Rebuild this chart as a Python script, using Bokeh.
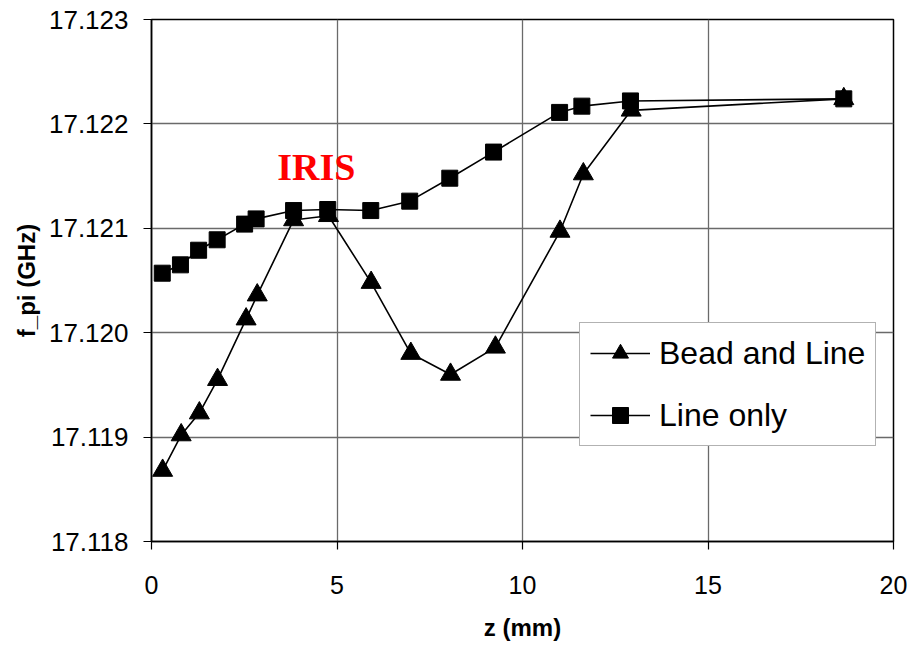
from bokeh.plotting import figure
from bokeh.models import (ColumnDataSource, FixedTicker, PrintfTickFormatter,
                          Legend, LegendItem, Label, Range1d)
from bokeh.embed import file_html
from bokeh.resources import INLINE

# ---- data ----
bead_z = [0.30, 0.80, 1.29, 1.78, 2.55, 2.85, 3.83, 4.77, 5.92, 6.99, 8.06, 9.27, 11.01, 11.64, 12.93, 18.66]
bead_f = [17.11868, 17.11902, 17.11923, 17.11955, 17.12013, 17.12036, 17.12108, 17.12112,
          17.12048, 17.11980, 17.11960, 17.11986, 17.12097, 17.12152, 17.12213, 17.12224]

line_z = [0.29, 0.78, 1.27, 1.77, 2.51, 2.82, 3.83, 4.75, 5.91, 6.96, 8.04, 9.22, 11.00, 11.60, 12.91, 18.66]
line_f = [17.12057, 17.12065, 17.12079, 17.12089, 17.12104, 17.12109, 17.12117, 17.12118,
          17.12117, 17.12126, 17.12148, 17.12173, 17.12211, 17.12217, 17.12222, 17.12224]

x_ticks = [0, 5, 10, 15, 20]
y_ticks = [17.118, 17.119, 17.120, 17.121, 17.122, 17.123]
series_names = ["Bead and Line", "Line only"]
annotation_text = "IRIS"

FONT = "Liberation Sans"

p = figure(frame_width=742, frame_height=522,
           x_range=Range1d(0, 20), y_range=Range1d(17.118, 17.123),
           output_backend="svg", toolbar_location=None,
           min_border_left=151, min_border_right=14,
           min_border_top=19, min_border_bottom=100)

p.background_fill_color = "white"
p.border_fill_color = "white"
p.outline_line_color = "black"
p.outline_line_width = 1.5

# grid
for g in (p.xgrid, p.ygrid):
    g.grid_line_color = "#6a6a6a"
    g.grid_line_width = 1.3

# axes
p.xaxis.ticker = FixedTicker(ticks=x_ticks)
p.yaxis.ticker = FixedTicker(ticks=y_ticks)
p.yaxis.formatter = PrintfTickFormatter(format="%.3f")
for ax in (p.xaxis, p.yaxis):
    ax.axis_line_color = "black"
    ax.axis_line_width = 1.5
    ax.major_tick_line_color = "black"
    ax.major_tick_line_width = 1.2
    ax.major_tick_out = 8
    ax.major_tick_in = 0
    ax.minor_tick_line_color = None
    ax.major_label_text_font = FONT
    ax.major_label_text_color = "black"
    ax.axis_label_text_font = FONT
    ax.axis_label_text_font_style = "bold"
    ax.axis_label_text_font_size = "24px"
    ax.axis_label_text_color = "black"

p.xaxis.major_label_text_font_size = "25px"
p.yaxis.major_label_text_font_size = "26px"
p.xaxis.major_label_standoff = 26
p.yaxis.major_label_standoff = 15
p.xaxis.axis_label = "z (mm)"
p.yaxis.axis_label = "f_pi (GHz)"
p.xaxis.axis_label_standoff = 17
p.yaxis.axis_label_standoff = 6

src_bead = ColumnDataSource(dict(z=bead_z, f=bead_f))
src_line = ColumnDataSource(dict(z=line_z, f=line_f))

l1 = p.line("z", "f", source=src_bead, line_color="black", line_width=1.6)
m1 = p.scatter("z", "f", source=src_bead, marker="triangle", size=20,
               fill_color="black", line_color="black")
l2 = p.line("z", "f", source=src_line, line_color="black", line_width=1.6)
m2 = p.scatter("z", "f", source=src_line, marker="square", size=16,
               fill_color="black", line_color="black")

legend = Legend(items=[LegendItem(label=series_names[0], renderers=[l1, m1]),
                       LegendItem(label=series_names[1], renderers=[l2, m2])],
                location=(428, 95))
legend.label_text_font = FONT
legend.label_text_font_size = "32px"
legend.label_text_color = "black"
legend.glyph_width = 60
legend.glyph_height = 40
legend.label_height = 40
legend.label_standoff = 9
legend.spacing = 22
legend.padding = 10
legend.margin = 0
legend.border_line_color = "#666666"
legend.border_line_width = 1.5
legend.background_fill_color = "white"
legend.background_fill_alpha = 1.0
p.add_layout(legend)

iris = Label(x=4.44, y=17.12159, text=annotation_text, text_align="center",
             text_baseline="middle", text_font="Liberation Serif",
             text_font_style="bold", text_font_size="38px", text_color="red")
p.add_layout(iris)

open("out.html", "w").write(file_html(p, INLINE))
